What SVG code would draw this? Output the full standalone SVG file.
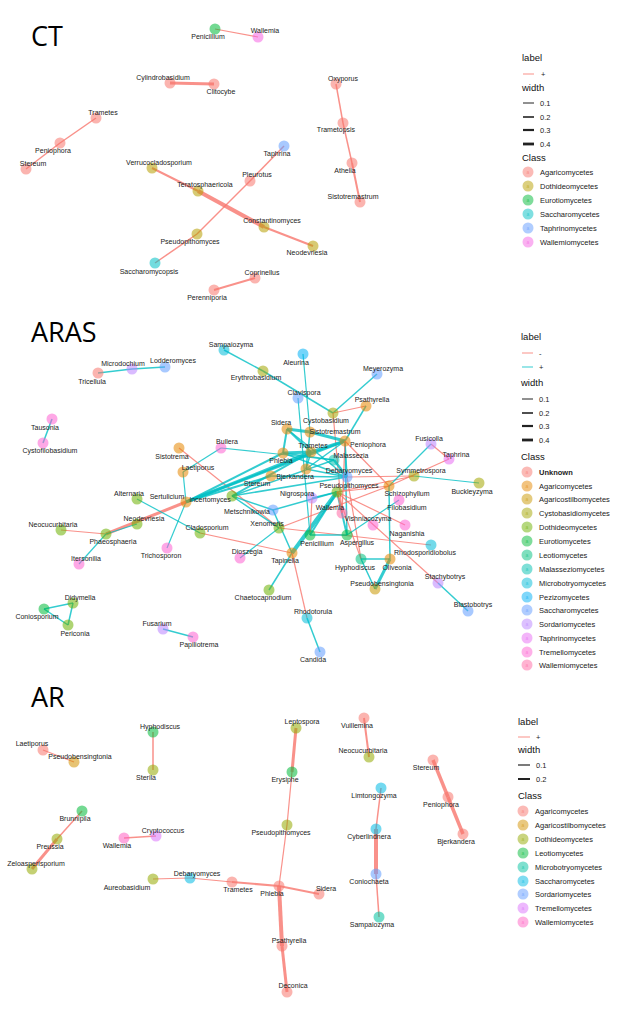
<svg xmlns="http://www.w3.org/2000/svg" width="642" height="1020" viewBox="0 0 642 1020">
<style>
.title{font-family:"Open Sans","Liberation Sans",sans-serif;font-size:27px;fill:#000}
.nd circle{fill-opacity:.55}
.nd text{font-family:"Liberation Sans",Arial,sans-serif;font-size:7px;fill:#222;text-anchor:middle}
.n{stroke:#F8766D;stroke-opacity:.8;fill:none}
.p{stroke:#00BFC4;stroke-opacity:.8;fill:none}
.lt{font-family:"Liberation Sans",Arial,sans-serif;font-size:9.5px;fill:#111}
.li{font-family:"Liberation Sans",Arial,sans-serif;font-size:7.5px;fill:#222}
.lk{stroke:#222}
.lc{fill-opacity:.5}
.la{font-family:"Liberation Sans",Arial,sans-serif;font-size:5px;text-anchor:middle;fill-opacity:.6}
</style>
<rect width="642" height="1020" fill="#fff"/>
<text class="title" x="31" y="46">CT</text>
<text class="title" x="31" y="342">ARAS</text>
<text class="title" x="31" y="707">AR</text>

<g id="connectors">
<!-- CT -->
<line class="n" stroke-width="1.2" x1="215" y1="29" x2="258" y2="37"/>
<line class="n" stroke-width="3" x1="170" y1="83" x2="214" y2="84"/>
<line class="n" stroke-width="1.5" x1="96" y1="118" x2="60" y2="143"/>
<line class="n" stroke-width="1.5" x1="60" y1="143" x2="26" y2="169"/>
<line class="n" stroke-width="2" x1="152" y1="168" x2="198" y2="191"/>
<line class="n" stroke-width="4" x1="198" y1="191" x2="264" y2="227"/>
<line class="n" stroke-width="2.2" x1="264" y1="227" x2="313" y2="246"/>
<line class="n" stroke-width="1.5" x1="284" y1="146" x2="250" y2="181"/>
<line class="n" stroke-width="1.5" x1="250" y1="181" x2="197" y2="234"/>
<line class="n" stroke-width="1.5" x1="197" y1="234" x2="155" y2="263"/>
<line class="n" stroke-width="2" x1="255" y1="278" x2="214" y2="290"/>
<line class="n" stroke-width="1.5" x1="336" y1="84" x2="343" y2="123"/>
<line class="n" stroke-width="1.5" x1="343" y1="123" x2="352" y2="163"/>
<line class="n" stroke-width="2" x1="352" y1="163" x2="360" y2="202"/>
<!-- ARAS -->
<line class="p" stroke-width="1.5" x1="98" y1="373" x2="132" y2="369"/>
<line class="p" stroke-width="1.5" x1="132" y1="369" x2="165" y2="367"/>
<line class="p" stroke-width="1.5" x1="52" y1="419" x2="43" y2="443"/>
<line class="p" stroke-width="1.5" x1="224" y1="350" x2="263" y2="371"/>
<line class="p" stroke-width="1.5" x1="263" y1="371" x2="333" y2="413"/>
<line class="p" stroke-width="1.2" x1="303" y1="354" x2="310" y2="432"/>
<line class="p" stroke-width="1.2" x1="298" y1="398" x2="310" y2="535"/>
<line class="p" stroke-width="1.5" x1="377" y1="374" x2="333" y2="413"/>
<line class="n" stroke-width="1.2" x1="333" y1="413" x2="366" y2="406"/>
<line class="p" stroke-width="1.5" x1="366" y1="406" x2="345" y2="441"/>
<line class="n" stroke-width="1.2" x1="333" y1="413" x2="342" y2="513"/>
<line class="n" stroke-width="1.2" x1="347" y1="477" x2="361" y2="559"/>
<line class="p" stroke-width="3" x1="287" y1="429" x2="310" y2="432"/>
<line class="p" stroke-width="3" x1="310" y1="432" x2="345" y2="441"/>
<line class="p" stroke-width="2" x1="287" y1="429" x2="283" y2="453"/>
<line class="p" stroke-width="2" x1="287" y1="429" x2="311" y2="452"/>
<line class="p" stroke-width="1.5" x1="287" y1="429" x2="347" y2="477"/>
<line class="p" stroke-width="3" x1="283" y1="453" x2="311" y2="452"/>
<line class="p" stroke-width="3" x1="311" y1="452" x2="345" y2="441"/>
<line class="p" stroke-width="1.5" x1="283" y1="453" x2="334" y2="460"/>
<line class="p" stroke-width="1.5" x1="283" y1="453" x2="347" y2="477"/>
<line class="p" stroke-width="1.5" x1="310" y1="432" x2="306" y2="469"/>
<line class="p" stroke-width="1.5" x1="311" y1="452" x2="306" y2="469"/>
<line class="p" stroke-width="1.5" x1="345" y1="441" x2="306" y2="469"/>
<line class="p" stroke-width="1.5" x1="306" y1="469" x2="347" y2="477"/>
<line class="p" stroke-width="1.5" x1="271" y1="476" x2="347" y2="477"/>
<line class="p" stroke-width="2.5" x1="334" y1="460" x2="347" y2="477"/>
<line class="p" stroke-width="1.5" x1="345" y1="441" x2="347" y2="477"/>
<line class="p" stroke-width="1.5" x1="345" y1="441" x2="347" y2="535"/>
<line class="p" stroke-width="1.2" x1="221" y1="448" x2="334" y2="460"/>
<line class="p" stroke-width="1.2" x1="221" y1="448" x2="183" y2="472"/>
<line class="p" stroke-width="1.2" x1="183" y1="472" x2="186" y2="502"/>
<line class="n" stroke-width="1.2" x1="179" y1="448" x2="279" y2="528"/>
<line class="p" stroke-width="3" x1="186" y1="502" x2="311" y2="452"/>
<line class="p" stroke-width="2.5" x1="186" y1="502" x2="345" y2="441"/>
<line class="p" stroke-width="2" x1="186" y1="502" x2="283" y2="453"/>
<line class="p" stroke-width="2" x1="186" y1="502" x2="271" y2="476"/>
<line class="p" stroke-width="1.2" x1="186" y1="502" x2="167" y2="548"/>
<line class="n" stroke-width="3" x1="186" y1="502" x2="106" y2="534"/>
<line class="p" stroke-width="1.2" x1="106" y1="534" x2="137" y2="524"/>
<line class="n" stroke-width="1.2" x1="106" y1="534" x2="61" y2="530"/>
<line class="p" stroke-width="1.2" x1="106" y1="534" x2="79" y2="564"/>
<line class="p" stroke-width="1.2" x1="137" y1="499" x2="200" y2="533"/>
<line class="n" stroke-width="1.2" x1="200" y1="533" x2="292" y2="553"/>
<line class="p" stroke-width="1.5" x1="232" y1="496" x2="273" y2="510"/>
<line class="p" stroke-width="1.5" x1="232" y1="496" x2="279" y2="528"/>
<line class="p" stroke-width="1.5" x1="232" y1="496" x2="334" y2="460"/>
<line class="p" stroke-width="1.5" x1="232" y1="496" x2="347" y2="477"/>
<line class="p" stroke-width="2" x1="232" y1="496" x2="311" y2="452"/>
<line class="p" stroke-width="1.5" x1="273" y1="510" x2="337" y2="492"/>
<line class="p" stroke-width="1.5" x1="273" y1="510" x2="292" y2="553"/>
<line class="p" stroke-width="1.2" x1="240" y1="558" x2="279" y2="528"/>
<line class="n" stroke-width="1.2" x1="279" y1="528" x2="389" y2="486"/>
<line class="n" stroke-width="1.2" x1="279" y1="528" x2="431" y2="545"/>
<line class="p" stroke-width="4" x1="292" y1="553" x2="337" y2="492"/>
<line class="p" stroke-width="1.5" x1="292" y1="553" x2="269" y2="590"/>
<line class="n" stroke-width="1.2" x1="292" y1="553" x2="307" y2="618"/>
<line class="p" stroke-width="1.5" x1="307" y1="618" x2="320" y2="652"/>
<line class="p" stroke-width="1.5" x1="310" y1="535" x2="347" y2="535"/>
<line class="n" stroke-width="1.2" x1="310" y1="535" x2="312" y2="498"/>
<line class="p" stroke-width="2" x1="310" y1="535" x2="337" y2="492"/>
<line class="p" stroke-width="2" x1="337" y1="492" x2="347" y2="535"/>
<line class="p" stroke-width="1.5" x1="337" y1="492" x2="312" y2="498"/>
<line class="n" stroke-width="1.2" x1="337" y1="492" x2="389" y2="486"/>
<line class="n" stroke-width="1.2" x1="337" y1="492" x2="405" y2="525"/>
<line class="n" stroke-width="1.2" x1="337" y1="492" x2="438" y2="583"/>
<line class="n" stroke-width="1.2" x1="337" y1="492" x2="361" y2="559"/>
<line class="n" stroke-width="1.2" x1="337" y1="492" x2="342" y2="513"/>
<line class="n" stroke-width="1.2" x1="337" y1="492" x2="414" y2="476"/>
<line class="n" stroke-width="1.2" x1="347" y1="477" x2="414" y2="476"/>
<line class="p" stroke-width="1.2" x1="414" y1="476" x2="479" y2="483"/>
<line class="p" stroke-width="1.5" x1="389" y1="486" x2="390" y2="559"/>
<line class="n" stroke-width="1.2" x1="389" y1="486" x2="449" y2="459"/>
<line class="n" stroke-width="1.2" x1="431" y1="444" x2="449" y2="459"/>
<line class="p" stroke-width="1.2" x1="431" y1="444" x2="389" y2="486"/>
<line class="p" stroke-width="1.2" x1="399" y1="500" x2="347" y2="535"/>
<line class="p" stroke-width="1.5" x1="361" y1="559" x2="390" y2="559"/>
<line class="p" stroke-width="1.5" x1="361" y1="559" x2="375" y2="589"/>
<line class="p" stroke-width="3" x1="390" y1="559" x2="375" y2="589"/>
<line class="p" stroke-width="1.5" x1="438" y1="583" x2="468" y2="611"/>
<line class="n" stroke-width="1.2" x1="345" y1="441" x2="342" y2="513"/>
<line class="n" stroke-width="1.2" x1="345" y1="441" x2="389" y2="486"/>
<line class="p" stroke-width="1.5" x1="73" y1="603" x2="44" y2="609"/>
<line class="p" stroke-width="1.5" x1="73" y1="603" x2="68" y2="625"/>
<line class="p" stroke-width="1.5" x1="44" y1="609" x2="68" y2="625"/>
<line class="p" stroke-width="1.5" x1="163" y1="629" x2="193" y2="637"/>
<!-- AR -->
<line class="n" stroke-width="1.2" x1="43" y1="750" x2="74" y2="762"/>
<line class="n" stroke-width="1.5" x1="153" y1="732" x2="153" y2="770"/>
<line class="n" stroke-width="1.5" x1="82" y1="811" x2="57" y2="839"/>
<line class="n" stroke-width="3" x1="57" y1="839" x2="32" y2="869"/>
<line class="n" stroke-width="1.5" x1="124" y1="838" x2="156" y2="836"/>
<line class="n" stroke-width="1.2" x1="153" y1="879" x2="190" y2="878"/>
<line class="n" stroke-width="1.2" x1="190" y1="878" x2="232" y2="882"/>
<line class="n" stroke-width="2" x1="232" y1="882" x2="279" y2="886"/>
<line class="n" stroke-width="2" x1="279" y1="886" x2="319" y2="894"/>
<line class="n" stroke-width="1.2" x1="287" y1="825" x2="279" y2="886"/>
<line class="n" stroke-width="1.2" x1="292" y1="772" x2="287" y2="825"/>
<line class="n" stroke-width="3" x1="296" y1="728" x2="292" y2="772"/>
<line class="n" stroke-width="4" x1="279" y1="886" x2="282" y2="946"/>
<line class="n" stroke-width="3" x1="282" y1="946" x2="287" y2="992"/>
<line class="n" stroke-width="2" x1="364" y1="718" x2="369" y2="757"/>
<line class="n" stroke-width="1.5" x1="381" y1="788" x2="376" y2="829"/>
<line class="n" stroke-width="4" x1="376" y1="829" x2="376" y2="874"/>
<line class="n" stroke-width="1.5" x1="376" y1="874" x2="379" y2="917"/>
<line class="n" stroke-width="3.5" x1="433" y1="760" x2="448" y2="797"/>
<line class="n" stroke-width="3.5" x1="448" y1="797" x2="463" y2="834"/>
</g>

<!-- CT nodes -->
<g id="ct-nodes">
<g class="nd" id="ct-penicillium"><circle cx="215" cy="29" r="5.5" fill="#00BA38"/><text x="208" y="38.5">Penicillium</text></g>
<g class="nd" id="ct-wallemia"><circle cx="258" cy="37" r="5.5" fill="#F564E3"/><text x="265" y="33">Wallemia</text></g>
<g class="nd" id="ct-cylindrobasidium"><circle cx="170" cy="83" r="5.5" fill="#F8766D"/><text x="163" y="79.5">Cylindrobasidium</text></g>
<g class="nd" id="ct-clitocybe"><circle cx="214" cy="84" r="5.5" fill="#F8766D"/><text x="221" y="93.5">Clitocybe</text></g>
<g class="nd" id="ct-trametes"><circle cx="96" cy="118" r="5.5" fill="#F8766D"/><text x="103" y="114.5">Trametes</text></g>
<g class="nd" id="ct-peniophora"><circle cx="60" cy="143" r="5.5" fill="#F8766D"/><text x="53" y="152.5">Peniophora</text></g>
<g class="nd" id="ct-stereum"><circle cx="26" cy="169" r="5.5" fill="#F8766D"/><text x="33" y="165.5">Stereum</text></g>
<g class="nd" id="ct-verrucocladosporium"><circle cx="152" cy="168" r="5.5" fill="#B79F00"/><text x="159" y="164.5">Verrucocladosporium</text></g>
<g class="nd" id="ct-teratosphaericola"><circle cx="198" cy="191" r="5.5" fill="#B79F00"/><text x="205" y="187">Teratosphaericola</text></g>
<g class="nd" id="ct-pseudopithomyces"><circle cx="197" cy="234" r="5.5" fill="#B79F00"/><text x="190" y="243.5">Pseudopithomyces</text></g>
<g class="nd" id="ct-saccharomycopsis"><circle cx="155" cy="263" r="5.5" fill="#00BFC4"/><text x="149" y="273.5">Saccharomycopsis</text></g>
<g class="nd" id="ct-perenniporia"><circle cx="214" cy="290" r="5.5" fill="#F8766D"/><text x="207" y="299.5">Perenniporia</text></g>
<g class="nd" id="ct-coprinellus"><circle cx="255" cy="278" r="5.5" fill="#F8766D"/><text x="262" y="274.5">Coprinellus</text></g>
<g class="nd" id="ct-taphrina"><circle cx="284" cy="146" r="5.5" fill="#619CFF"/><text x="277" y="155.5">Taphrina</text></g>
<g class="nd" id="ct-pleurotus"><circle cx="250" cy="181" r="5.5" fill="#F8766D"/><text x="257" y="176.5">Pleurotus</text></g>
<g class="nd" id="ct-constantinomyces"><circle cx="264" cy="227" r="5.5" fill="#B79F00"/><text x="272" y="223">Constantinomyces</text></g>
<g class="nd" id="ct-neodevriesia"><circle cx="313" cy="246" r="5.5" fill="#B79F00"/><text x="307" y="254.5">Neodevriesia</text></g>
<g class="nd" id="ct-oxyporus"><circle cx="336" cy="84" r="5.5" fill="#F8766D"/><text x="343" y="80.5">Oxyporus</text></g>
<g class="nd" id="ct-trametopsis"><circle cx="343" cy="123" r="5.5" fill="#F8766D"/><text x="336" y="131.5">Trametopsis</text></g>
<g class="nd" id="ct-athelia"><circle cx="352" cy="163" r="5.5" fill="#F8766D"/><text x="345" y="172.5">Athelia</text></g>
<g class="nd" id="ct-sistotremastrum"><circle cx="360" cy="202" r="5.5" fill="#F8766D"/><text x="353" y="198.5">Sistotremastrum</text></g>
</g>

<!-- ARAS nodes -->
<g id="aras-nodes">
<g class="nd" id="aras-tricellula"><circle cx="98" cy="373" r="5.5" fill="#F8766D"/><text x="92" y="383.5">Tricellula</text></g>
<g class="nd" id="aras-microdochium"><circle cx="132" cy="369" r="5.5" fill="#B983FF"/><text x="123" y="365.5">Microdochium</text></g>
<g class="nd" id="aras-lodderomyces"><circle cx="165" cy="367" r="5.5" fill="#619CFF"/><text x="173" y="362.5">Lodderomyces</text></g>
<g class="nd" id="aras-sampaiozyma"><circle cx="224" cy="350" r="5.5" fill="#00BCD8"/><text x="231" y="346.5">Sampaiozyma</text></g>
<g class="nd" id="aras-aleurina"><circle cx="303" cy="354" r="5.5" fill="#00B0F6"/><text x="296" y="364.5">Aleurina</text></g>
<g class="nd" id="aras-erythrobasidium"><circle cx="263" cy="371" r="5.5" fill="#A3A500"/><text x="256" y="379.5">Erythrobasidium</text></g>
<g class="nd" id="aras-meyerozyma"><circle cx="377" cy="374" r="5.5" fill="#619CFF"/><text x="383" y="370.5">Meyerozyma</text></g>
<g class="nd" id="aras-clavispora"><circle cx="298" cy="398" r="5.5" fill="#619CFF"/><text x="304" y="394.5">Clavispora</text></g>
<g class="nd" id="aras-psathyrella"><circle cx="366" cy="406" r="5.5" fill="#E58700"/><text x="372" y="401.5">Psathyrella</text></g>
<g class="nd" id="aras-cystobasidium"><circle cx="333" cy="413" r="5.5" fill="#A3A500"/><text x="326" y="422.5">Cystobasidium</text></g>
<g class="nd" id="aras-sidera"><circle cx="287" cy="429" r="5.5" fill="#E58700"/><text x="281" y="424.5">Sidera</text></g>
<g class="nd" id="aras-sistotremastrum"><circle cx="310" cy="432" r="5.5" fill="#E58700"/><text x="335" y="433.5">Sistotremastrum</text></g>
<g class="nd" id="aras-peniophora"><circle cx="345" cy="441" r="5.5" fill="#E58700"/><text x="368" y="446.5">Peniophora</text></g>
<g class="nd" id="aras-trametes"><circle cx="311" cy="452" r="5.5" fill="#E58700"/><text x="313" y="447.5">Trametes</text></g>
<g class="nd" id="aras-malassezia"><circle cx="334" cy="460" r="5.5" fill="#00C0AF"/><text x="351" y="457.5">Malassezia</text></g>
<g class="nd" id="aras-phlebia"><circle cx="283" cy="453" r="5.5" fill="#E58700"/><text x="281" y="462.5">Phlebia</text></g>
<g class="nd" id="aras-bullera"><circle cx="221" cy="448" r="5.5" fill="#FD61D1"/><text x="227" y="443.5">Bullera</text></g>
<g class="nd" id="aras-sistotrema"><circle cx="179" cy="448" r="5.5" fill="#E58700"/><text x="172" y="458.5">Sistotrema</text></g>
<g class="nd" id="aras-tausonia"><circle cx="52" cy="419" r="5.5" fill="#FD61D1"/><text x="45" y="429.5">Tausonia</text></g>
<g class="nd" id="aras-cystofilobasidium"><circle cx="43" cy="443" r="5.5" fill="#FD61D1"/><text x="50" y="452.5">Cystofilobasidium</text></g>
<g class="nd" id="aras-bjerkandera"><circle cx="306" cy="469" r="5.5" fill="#E58700"/><text x="295" y="478.5">Bjerkandera</text></g>
<g class="nd" id="aras-stereum"><circle cx="271" cy="476" r="5.5" fill="#E58700"/><text x="257" y="485.5">Stereum</text></g>
<g class="nd" id="aras-debaryomyces"><circle cx="347" cy="477" r="5.5" fill="#619CFF"/><text x="349" y="472.5">Debaryomyces</text></g>
<g class="nd" id="aras-pseudopithomyces"><circle cx="337" cy="492" r="5.5" fill="#6BB100"/><text x="349" y="487.5">Pseudopithomyces</text></g>
<g class="nd" id="aras-nigrospora"><circle cx="312" cy="498" r="5.5" fill="#B983FF"/><text x="297" y="495.5">Nigrospora</text></g>
<g class="nd" id="aras-fusicolla"><circle cx="431" cy="444" r="5.5" fill="#B983FF"/><text x="429" y="440.5">Fusicolla</text></g>
<g class="nd" id="aras-taphrina"><circle cx="449" cy="459" r="5.5" fill="#E76BF3"/><text x="456" y="456.5">Taphrina</text></g>
<g class="nd" id="aras-symmetrospora"><circle cx="414" cy="476" r="5.5" fill="#A3A500"/><text x="421" y="472.5">Symmetrospora</text></g>
<g class="nd" id="aras-schizophyllum"><circle cx="389" cy="486" r="5.5" fill="#E58700"/><text x="407" y="495.5">Schizophyllum</text></g>
<g class="nd" id="aras-buckleyzyma"><circle cx="479" cy="483" r="5.5" fill="#A3A500"/><text x="472" y="493.5">Buckleyzyma</text></g>
<g class="nd" id="aras-filobasidium"><circle cx="399" cy="500" r="5.5" fill="#FD61D1"/><text x="407" y="509.5">Filobasidium</text></g>
<g class="nd" id="aras-laetiporus"><circle cx="183" cy="472" r="5.5" fill="#E58700"/><text x="198" y="469.5">Laetiporus</text></g>
<g class="nd" id="aras-alternaria"><circle cx="137" cy="499" r="5.5" fill="#6BB100"/><text x="129" y="495.5">Alternaria</text></g>
<g class="nd" id="aras-sertulicium"><circle cx="186" cy="502" r="5.5" fill="#E58700"/><text x="167" y="498.5">Sertulicium</text></g>
<g class="nd" id="aras-incertomyces"><circle cx="232" cy="496" r="5.5" fill="#6BB100"/><text x="210" y="501.5">Incertomyces</text></g>
<g class="nd" id="aras-metschnikowia"><circle cx="273" cy="510" r="5.5" fill="#619CFF"/><text x="247" y="513.5">Metschnikowia</text></g>
<g class="nd" id="aras-wallemia"><circle cx="342" cy="513" r="5.5" fill="#FF67A4"/><text x="330" y="509.5">Wallemia</text></g>
<g class="nd" id="aras-vishniacozyma"><circle cx="373" cy="525" r="5.5" fill="#FD61D1"/><text x="368" y="520.5">Vishniacozyma</text></g>
<g class="nd" id="aras-naganishia"><circle cx="405" cy="525" r="5.5" fill="#FD61D1"/><text x="407" y="535.5">Naganishia</text></g>
<g class="nd" id="aras-xenomeris"><circle cx="279" cy="528" r="5.5" fill="#6BB100"/><text x="267" y="525.5">Xenomeris</text></g>
<g class="nd" id="aras-neodevriesia"><circle cx="137" cy="524" r="5.5" fill="#6BB100"/><text x="144" y="520.5">Neodevriesia</text></g>
<g class="nd" id="aras-neocucurbitaria"><circle cx="61" cy="530" r="5.5" fill="#6BB100"/><text x="53" y="526.5">Neocucurbitaria</text></g>
<g class="nd" id="aras-phaeosphaeria"><circle cx="106" cy="534" r="5.5" fill="#6BB100"/><text x="113" y="543.5">Phaeosphaeria</text></g>
<g class="nd" id="aras-cladosporium"><circle cx="200" cy="533" r="5.5" fill="#6BB100"/><text x="207" y="529.5">Cladosporium</text></g>
<g class="nd" id="aras-penicillium"><circle cx="310" cy="535" r="5.5" fill="#00BA38"/><text x="317" y="545.5">Penicillium</text></g>
<g class="nd" id="aras-aspergillus"><circle cx="347" cy="535" r="5.5" fill="#00BA38"/><text x="357" y="544.5">Aspergillus</text></g>
<g class="nd" id="aras-rhodosporidiobolus"><circle cx="431" cy="545" r="5.5" fill="#00BCD8"/><text x="425" y="554.5">Rhodosporidiobolus</text></g>
<g class="nd" id="aras-trichosporon"><circle cx="167" cy="548" r="5.5" fill="#FD61D1"/><text x="161" y="557.5">Trichosporon</text></g>
<g class="nd" id="aras-dioszegia"><circle cx="240" cy="558" r="5.5" fill="#FD61D1"/><text x="247" y="553.5">Dioszegia</text></g>
<g class="nd" id="aras-tapinella"><circle cx="292" cy="553" r="5.5" fill="#E58700"/><text x="285" y="562.5">Tapinella</text></g>
<g class="nd" id="aras-hyphodiscus"><circle cx="361" cy="559" r="5.5" fill="#00BF7D"/><text x="355" y="569.5">Hyphodiscus</text></g>
<g class="nd" id="aras-oliveonia"><circle cx="390" cy="559" r="5.5" fill="#E58700"/><text x="397" y="569.5">Oliveonia</text></g>
<g class="nd" id="aras-itersonilia"><circle cx="79" cy="564" r="5.5" fill="#FD61D1"/><text x="86" y="560.5">Itersonilia</text></g>
<g class="nd" id="aras-pseudobensingtonia"><circle cx="375" cy="589" r="5.5" fill="#C99800"/><text x="382" y="585.5">Pseudobensingtonia</text></g>
<g class="nd" id="aras-stachybotrys"><circle cx="438" cy="583" r="5.5" fill="#B983FF"/><text x="445" y="578.5">Stachybotrys</text></g>
<g class="nd" id="aras-chaetocapnodium"><circle cx="269" cy="590" r="5.5" fill="#6BB100"/><text x="263" y="599.5">Chaetocapnodium</text></g>
<g class="nd" id="aras-didymella"><circle cx="73" cy="603" r="5.5" fill="#6BB100"/><text x="80" y="599.5">Didymella</text></g>
<g class="nd" id="aras-coniosporium"><circle cx="44" cy="609" r="5.5" fill="#00BA38"/><text x="37" y="618.5">Coniosporium</text></g>
<g class="nd" id="aras-blastobotrys"><circle cx="468" cy="611" r="5.5" fill="#619CFF"/><text x="473" y="606.5">Blastobotrys</text></g>
<g class="nd" id="aras-rhodotorula"><circle cx="307" cy="618" r="5.5" fill="#00BCD8"/><text x="313" y="613.5">Rhodotorula</text></g>
<g class="nd" id="aras-periconia"><circle cx="68" cy="625" r="5.5" fill="#6BB100"/><text x="75" y="635.5">Periconia</text></g>
<g class="nd" id="aras-fusarium"><circle cx="163" cy="629" r="5.5" fill="#B983FF"/><text x="157" y="625.5">Fusarium</text></g>
<g class="nd" id="aras-papiliotrema"><circle cx="193" cy="637" r="5.5" fill="#FD61D1"/><text x="199" y="646.5">Papiliotrema</text></g>
<g class="nd" id="aras-candida"><circle cx="320" cy="652" r="5.5" fill="#619CFF"/><text x="313" y="661.5">Candida</text></g>
</g>

<!-- AR nodes -->
<g id="ar-nodes">
<g class="nd" id="ar-hyphodiscus"><circle cx="153" cy="732" r="5.5" fill="#00BA38"/><text x="160" y="728.5">Hyphodiscus</text></g>
<g class="nd" id="ar-sterila"><circle cx="153" cy="770" r="5.5" fill="#93AA00"/><text x="146" y="779.5">Sterila</text></g>
<g class="nd" id="ar-laetiporus"><circle cx="43" cy="750" r="5.5" fill="#F8766D"/><text x="32" y="745.5">Laetiporus</text></g>
<g class="nd" id="ar-pseudobensingtonia"><circle cx="74" cy="762" r="5.5" fill="#D39200"/><text x="80" y="758.5">Pseudobensingtonia</text></g>
<g class="nd" id="ar-brunnipila"><circle cx="82" cy="811" r="5.5" fill="#00BA38"/><text x="75" y="820.5">Brunnipila</text></g>
<g class="nd" id="ar-preussia"><circle cx="57" cy="839" r="5.5" fill="#93AA00"/><text x="50" y="848.5">Preussia</text></g>
<g class="nd" id="ar-zeloasperisporium"><circle cx="32" cy="869" r="5.5" fill="#93AA00"/><text x="36" y="865.5">Zeloasperisporium</text></g>
<g class="nd" id="ar-wallemia"><circle cx="124" cy="838" r="5.5" fill="#FF61C3"/><text x="117" y="847.5">Wallemia</text></g>
<g class="nd" id="ar-cryptococcus"><circle cx="156" cy="836" r="5.5" fill="#DB72FB"/><text x="163" y="832.5">Cryptococcus</text></g>
<g class="nd" id="ar-aureobasidium"><circle cx="153" cy="879" r="5.5" fill="#93AA00"/><text x="127" y="889.5">Aureobasidium</text></g>
<g class="nd" id="ar-debaryomyces"><circle cx="190" cy="878" r="5.5" fill="#00B9E3"/><text x="197" y="875.5">Debaryomyces</text></g>
<g class="nd" id="ar-trametes"><circle cx="232" cy="882" r="5.5" fill="#F8766D"/><text x="238" y="891.5">Trametes</text></g>
<g class="nd" id="ar-phlebia"><circle cx="279" cy="886" r="5.5" fill="#F8766D"/><text x="272" y="895.5">Phlebia</text></g>
<g class="nd" id="ar-sidera"><circle cx="319" cy="894" r="5.5" fill="#F8766D"/><text x="326" y="890.5">Sidera</text></g>
<g class="nd" id="ar-psathyrella"><circle cx="282" cy="946" r="5.5" fill="#F8766D"/><text x="289" y="942.5">Psathyrella</text></g>
<g class="nd" id="ar-deconica"><circle cx="287" cy="992" r="5.5" fill="#F8766D"/><text x="293" y="987.5">Deconica</text></g>
<g class="nd" id="ar-leptospora"><circle cx="296" cy="728" r="5.5" fill="#93AA00"/><text x="302" y="723.5">Leptospora</text></g>
<g class="nd" id="ar-erysiphe"><circle cx="292" cy="772" r="5.5" fill="#00BA38"/><text x="285" y="781.5">Erysiphe</text></g>
<g class="nd" id="ar-pseudopithomyces"><circle cx="287" cy="825" r="5.5" fill="#93AA00"/><text x="281" y="834.5">Pseudopithomyces</text></g>
<g class="nd" id="ar-vuillemina"><circle cx="364" cy="718" r="5.5" fill="#F8766D"/><text x="357" y="727.5">Vuillemina</text></g>
<g class="nd" id="ar-neocucurbitaria"><circle cx="369" cy="757" r="5.5" fill="#93AA00"/><text x="363" y="752.5">Neocucurbitaria</text></g>
<g class="nd" id="ar-limtongozyma"><circle cx="381" cy="788" r="5.5" fill="#00B9E3"/><text x="374" y="797.5">Limtongozyma</text></g>
<g class="nd" id="ar-cyberlindnera"><circle cx="376" cy="829" r="5.5" fill="#00B9E3"/><text x="369" y="838.5">Cyberlindnera</text></g>
<g class="nd" id="ar-coniochaeta"><circle cx="376" cy="874" r="5.5" fill="#619CFF"/><text x="369" y="883.5">Coniochaeta</text></g>
<g class="nd" id="ar-sampaiozyma"><circle cx="379" cy="917" r="5.5" fill="#00C19F"/><text x="372" y="926.5">Sampaiozyma</text></g>
<g class="nd" id="ar-stereum"><circle cx="433" cy="760" r="5.5" fill="#F8766D"/><text x="426" y="769.5">Stereum</text></g>
<g class="nd" id="ar-peniophora"><circle cx="448" cy="797" r="5.5" fill="#F8766D"/><text x="441" y="806.5">Peniophora</text></g>
<g class="nd" id="ar-bjerkandera"><circle cx="463" cy="834" r="5.5" fill="#F8766D"/><text x="456" y="843.5">Bjerkandera</text></g>
</g>

<!-- CT legend -->
<g id="ct-legend">
<text class="lt" x="522" y="61">label</text>
<line class="n" stroke-width="1" x1="523" y1="74" x2="534" y2="74"/><text class="li" x="541" y="77">+</text>
<text class="lt" x="522" y="91">width</text>
<line class="lk" stroke-width="1" x1="523" y1="103" x2="534" y2="103"/><text class="li" x="540" y="106">0.1</text>
<line class="lk" stroke-width="1.6" x1="523" y1="117" x2="534" y2="117"/><text class="li" x="540" y="120">0.2</text>
<line class="lk" stroke-width="2.2" x1="523" y1="130" x2="534" y2="130"/><text class="li" x="540" y="133">0.3</text>
<line class="lk" stroke-width="2.8" x1="523" y1="144" x2="534" y2="144"/><text class="li" x="540" y="147">0.4</text>
<text class="lt" x="522" y="161">Class</text>
<circle class="lc" cx="528" cy="172" r="5.5" fill="#F8766D"/><text class="la" x="528" y="174" fill="#F8766D">a</text><text class="li" x="540" y="175">Agaricomycetes</text>
<circle class="lc" cx="528" cy="186" r="5.5" fill="#B79F00"/><text class="la" x="528" y="188" fill="#B79F00">a</text><text class="li" x="540" y="189">Dothideomycetes</text>
<circle class="lc" cx="528" cy="200" r="5.5" fill="#00BA38"/><text class="la" x="528" y="202" fill="#00BA38">a</text><text class="li" x="540" y="203">Eurotiomycetes</text>
<circle class="lc" cx="528" cy="214" r="5.5" fill="#00BFC4"/><text class="la" x="528" y="216" fill="#00BFC4">a</text><text class="li" x="540" y="217">Saccharomycetes</text>
<circle class="lc" cx="528" cy="228" r="5.5" fill="#619CFF"/><text class="la" x="528" y="230" fill="#619CFF">a</text><text class="li" x="540" y="231">Taphrinomycetes</text>
<circle class="lc" cx="528" cy="242" r="5.5" fill="#F564E3"/><text class="la" x="528" y="244" fill="#F564E3">a</text><text class="li" x="540" y="245">Wallemiomycetes</text>
</g>

<!-- ARAS legend -->
<g id="aras-legend">
<text class="lt" x="521" y="340">label</text>
<line class="n" stroke-width="1" x1="522" y1="353" x2="533" y2="353"/><text class="li" x="539" y="356">-</text>
<line class="p" stroke-width="1" x1="522" y1="367" x2="533" y2="367"/><text class="li" x="539" y="370">+</text>
<text class="lt" x="521" y="386">width</text>
<line class="lk" stroke-width="1" x1="522" y1="399" x2="533" y2="399"/><text class="li" x="539" y="402">0.1</text>
<line class="lk" stroke-width="1.6" x1="522" y1="413" x2="533" y2="413"/><text class="li" x="539" y="416">0.2</text>
<line class="lk" stroke-width="2.2" x1="522" y1="426" x2="533" y2="426"/><text class="li" x="539" y="429">0.3</text>
<line class="lk" stroke-width="2.8" x1="522" y1="440" x2="533" y2="440"/><text class="li" x="539" y="443">0.4</text>
<text class="lt" x="521" y="460">Class</text>
<circle class="lc" cx="527" cy="472" r="5.5" fill="#F8766D"/><text class="la" x="527" y="474" fill="#F8766D">a</text><text class="li" x="539" y="475" font-weight="bold">Unknown</text>
<circle class="lc" cx="527" cy="486" r="5.5" fill="#E58700"/><text class="la" x="527" y="488" fill="#E58700">a</text><text class="li" x="539" y="489">Agaricomycetes</text>
<circle class="lc" cx="527" cy="499" r="5.5" fill="#C99800"/><text class="la" x="527" y="501" fill="#C99800">a</text><text class="li" x="539" y="502">Agaricostilbomycetes</text>
<circle class="lc" cx="527" cy="513" r="5.5" fill="#A3A500"/><text class="la" x="527" y="515" fill="#A3A500">a</text><text class="li" x="539" y="516">Cystobasidiomycetes</text>
<circle class="lc" cx="527" cy="527" r="5.5" fill="#6BB100"/><text class="la" x="527" y="529" fill="#6BB100">a</text><text class="li" x="539" y="530">Dothideomycetes</text>
<circle class="lc" cx="527" cy="541" r="5.5" fill="#00BA38"/><text class="la" x="527" y="543" fill="#00BA38">a</text><text class="li" x="539" y="544">Eurotiomycetes</text>
<circle class="lc" cx="527" cy="555" r="5.5" fill="#00BF7D"/><text class="la" x="527" y="557" fill="#00BF7D">a</text><text class="li" x="539" y="558">Leotiomycetes</text>
<circle class="lc" cx="527" cy="569" r="5.5" fill="#00C0AF"/><text class="la" x="527" y="571" fill="#00C0AF">a</text><text class="li" x="539" y="572">Malasseziomycetes</text>
<circle class="lc" cx="527" cy="583" r="5.5" fill="#00BCD8"/><text class="la" x="527" y="585" fill="#00BCD8">a</text><text class="li" x="539" y="586">Microbotryomycetes</text>
<circle class="lc" cx="527" cy="597" r="5.5" fill="#00B0F6"/><text class="la" x="527" y="599" fill="#00B0F6">a</text><text class="li" x="539" y="600">Pezizomycetes</text>
<circle class="lc" cx="527" cy="610" r="5.5" fill="#619CFF"/><text class="la" x="527" y="612" fill="#619CFF">a</text><text class="li" x="539" y="613">Saccharomycetes</text>
<circle class="lc" cx="527" cy="624" r="5.5" fill="#B983FF"/><text class="la" x="527" y="626" fill="#B983FF">a</text><text class="li" x="539" y="627">Sordariomycetes</text>
<circle class="lc" cx="527" cy="638" r="5.5" fill="#E76BF3"/><text class="la" x="527" y="640" fill="#E76BF3">a</text><text class="li" x="539" y="641">Taphrinomycetes</text>
<circle class="lc" cx="527" cy="652" r="5.5" fill="#FD61D1"/><text class="la" x="527" y="654" fill="#FD61D1">a</text><text class="li" x="539" y="655">Tremellomycetes</text>
<circle class="lc" cx="527" cy="665" r="5.5" fill="#FF67A4"/><text class="la" x="527" y="667" fill="#FF67A4">a</text><text class="li" x="539" y="668">Wallemiomycetes</text>
</g>

<!-- AR legend -->
<g id="ar-legend">
<text class="lt" x="518" y="725">label</text>
<line class="n" stroke-width="1" x1="518" y1="737" x2="530" y2="737"/><text class="li" x="536" y="740">+</text>
<text class="lt" x="518" y="753">width</text>
<line class="lk" stroke-width="1.2" x1="518" y1="765" x2="530" y2="765"/><text class="li" x="536" y="768">0.1</text>
<line class="lk" stroke-width="2" x1="518" y1="779" x2="530" y2="779"/><text class="li" x="536" y="782">0.2</text>
<text class="lt" x="518" y="799">Class</text>
<circle class="lc" cx="523" cy="811" r="5.5" fill="#F8766D"/><text class="la" x="523" y="813" fill="#F8766D">a</text><text class="li" x="535" y="814">Agaricomycetes</text>
<circle class="lc" cx="523" cy="825" r="5.5" fill="#D39200"/><text class="la" x="523" y="827" fill="#D39200">a</text><text class="li" x="535" y="828">Agaricostilbomycetes</text>
<circle class="lc" cx="523" cy="839" r="5.5" fill="#93AA00"/><text class="la" x="523" y="841" fill="#93AA00">a</text><text class="li" x="535" y="842">Dothideomycetes</text>
<circle class="lc" cx="523" cy="853" r="5.5" fill="#00BA38"/><text class="la" x="523" y="855" fill="#00BA38">a</text><text class="li" x="535" y="856">Leotiomycetes</text>
<circle class="lc" cx="523" cy="867" r="5.5" fill="#00C19F"/><text class="la" x="523" y="869" fill="#00C19F">a</text><text class="li" x="535" y="870">Microbotryomycetes</text>
<circle class="lc" cx="523" cy="881" r="5.5" fill="#00B9E3"/><text class="la" x="523" y="883" fill="#00B9E3">a</text><text class="li" x="535" y="884">Saccharomycetes</text>
<circle class="lc" cx="523" cy="894" r="5.5" fill="#619CFF"/><text class="la" x="523" y="896" fill="#619CFF">a</text><text class="li" x="535" y="897">Sordariomycetes</text>
<circle class="lc" cx="523" cy="908" r="5.5" fill="#DB72FB"/><text class="la" x="523" y="910" fill="#DB72FB">a</text><text class="li" x="535" y="911">Tremellomycetes</text>
<circle class="lc" cx="523" cy="922" r="5.5" fill="#FF61C3"/><text class="la" x="523" y="924" fill="#FF61C3">a</text><text class="li" x="535" y="925">Wallemiomycetes</text>
</g>
</svg>
